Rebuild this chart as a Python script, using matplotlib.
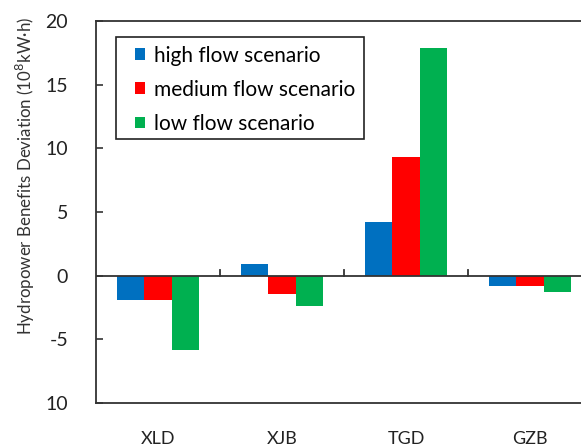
import matplotlib.pyplot as plt
import numpy as np
from matplotlib.patches import Rectangle

plt.rcParams['font.family'] = ['Lato', 'DejaVu Sans']

stations = ["XLD", "XJB", "TGD", "GZB"]
high_flow = [-1.9, 0.92, 4.25, -0.8]
medium_flow = [-1.9, -1.47, 9.35, -0.8]
low_flow = [-5.8, -2.38, 17.9, -1.28]
series_names = ["high flow scenario", "medium flow scenario", "low flow scenario"]
colors = ["#0070C0", "#FF0000", "#00B050"]
y_ticks = [-10, -5, 0, 5, 10, 15, 20]
y_tick_labels = ["10", "-5", "0", "5", "10", "15", "20"]

W, H = 581, 446
fig = plt.figure(figsize=(W / 100, H / 100), dpi=100)
ax = fig.add_axes([96 / W, 1 - 403 / H, (592 - 96) / W, (403 - 21) / H])

x = np.arange(len(stations))
width = 0.223
for i, (vals, name, c) in enumerate(zip([high_flow, medium_flow, low_flow], series_names, colors)):
    ax.bar(x + (i - 1) * width, vals, width, color=c, label=name, zorder=2)

ax.set_xlim(-0.5, len(stations) - 0.5)
ax.set_ylim(-10, 20)
ax.set_yticks(y_ticks)
ax.set_yticklabels(y_tick_labels, fontsize=14, color="#222222")
ax.tick_params(axis="y", direction="in", length=5, width=1.2, pad=20, color="#333333")
ax.set_xticks(x)
ax.set_xticklabels(stations, fontsize=13, color="#222222")
ax.tick_params(axis="x", length=0, pad=20)

# zero line with category separators
ax.axhline(0, color="#333333", lw=1.3, zorder=3)
for b in np.arange(0.5, len(stations) - 0.5, 1.0):
    ax.plot([b, b], [0, 0.47], color="#333333", lw=1.3, zorder=3)

for s in ax.spines.values():
    s.set_color("#333333")
    s.set_linewidth(1.3)

ax.set_ylabel("Hydropower Benefits Deviation (10$^8$kW·h)", fontsize=12.2, color="#333333")
ax.yaxis.set_label_coords(-0.118, 0.594)

# legend: text block without frame, frame drawn as a box in figure pixels
leg = ax.legend(loc="upper left", bbox_to_anchor=(135 / W, 1 - 45.5 / H), bbox_transform=fig.transFigure,
                fontsize=15, frameon=False,
                handlelength=0.48, handleheight=0.48, handletextpad=0.43, labelspacing=0.68,
                borderpad=0, borderaxespad=0)
fig.patches.append(Rectangle((116 / W, 1 - 139 / H), (364 - 116) / W, (139 - 37) / H,
                             transform=fig.transFigure, fill=False, edgecolor="#222222", lw=1.2, zorder=5))

fig.savefig("out.png", dpi=100)
